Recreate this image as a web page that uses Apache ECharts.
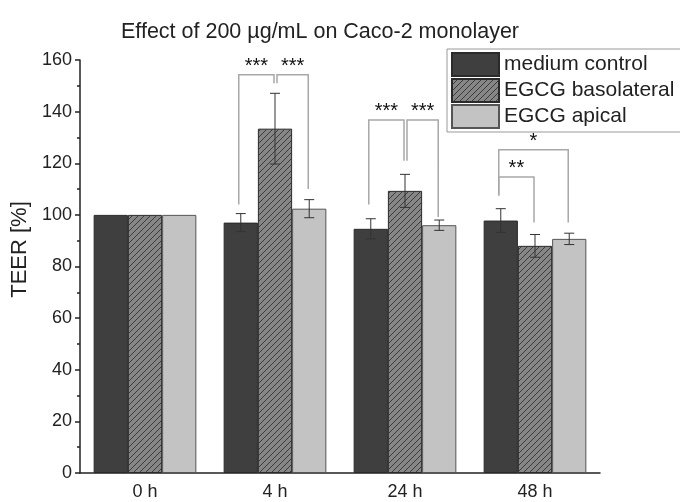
<!DOCTYPE html>
<html><head><meta charset="utf-8">
<script src="https://cdn.jsdelivr.net/npm/echarts@6/dist/echarts.min.js"></script>
<style>html,body{margin:0;padding:0;background:#fff}#c{width:680px;height:502px}</style>
</head><body><div id="c"></div>
<script>
// ---- data ----
const categories = ['0 h', '4 h', '24 h', '48 h'];
const seriesNames = ['medium control', 'EGCG basolateral', 'EGCG apical'];
const medium = [100, 97.0, 94.6, 97.8];
const mediumErr = [0, 3.5, 3.9, 4.6];
const baso = [100, 133.4, 109.3, 88.0];
const basoErr = [0, 13.7, 6.4, 4.4];
const apical = [100, 102.4, 96.0, 90.7];
const apicalErr = [0, 3.5, 2.0, 2.2];
const yTicks = [0, 20, 40, 60, 80, 100, 120, 140, 160];
// significance brackets (category, from bar, to bar, top, leg ends in TEER units)
const sigCat = [1, 1, 2, 2, 3, 3];
const sigFrom = [0, 1, 0, 1, 0, 0];
const sigTo = [1, 2, 1, 2, 1, 2];
const sigTop = [154.3, 154.3, 136.8, 136.8, 114.7, 125.2];
const sigLegFrom = [104.0, 151.0, 104.0, 121.0, 107.5, 107.5];
const sigLegTo = [151.0, 110.0, 121.0, 99.2, 97.0, 97.0];
const sigText = ['***', '***', '***', '***', '**', '*'];

// ---- styling ----
const FONT = 'Liberation Sans, Arial, sans-serif';
const GAP = 0.21;
function hatch() {
  const n = 6, c = document.createElement('canvas');
  c.width = c.height = n;
  const g = c.getContext('2d');
  g.fillStyle = '#868686'; g.fillRect(0, 0, n, n);
  g.strokeStyle = '#3c3c3c'; g.lineWidth = 1;
  g.beginPath();
  g.moveTo(-1, n + 1); g.lineTo(n + 1, -1);
  g.moveTo(-1, 1); g.lineTo(1, -1);
  g.moveTo(n - 1, n + 1); g.lineTo(n + 1, n - 1);
  g.stroke();
  return c;
}
const colors = ['#3f3f3f', { image: hatch(), repeat: 'repeat' }, '#c3c3c3'];
const borders = ['#2a2a2a', '#2a2a2a', '#555555'];
const means = [medium, baso, apical];
const errs = [mediumErr, basoErr, apicalErr];

function errData(s) {
  return categories.map((c, i) => [i, means[s][i] - errs[s][i], means[s][i] + errs[s][i]]);
}
function errRender(s) {
  return function (params, api) {
    const ci = api.value(0), lo = api.value(1), hi = api.value(2);
    if (hi - lo <= 0) return null;
    const bw = api.size([1, 0])[0] * (1 - GAP) / 3;
    const pl = api.coord([ci, lo]), ph = api.coord([ci, hi]);
    const x = pl[0] + (s - 1) * bw, cap = 5;
    const st = { stroke: '#333', lineWidth: 1 };
    return { type: 'group', children: [
      { type: 'line', shape: { x1: x, y1: pl[1], x2: x, y2: ph[1] }, style: st },
      { type: 'line', shape: { x1: x - cap, y1: pl[1], x2: x + cap, y2: pl[1] }, style: st },
      { type: 'line', shape: { x1: x - cap, y1: ph[1], x2: x + cap, y2: ph[1] }, style: st }
    ]};
  };
}
function sigRender(params, api) {
  const i = params.dataIndex;
  const ci = api.value(0), a = api.value(1), b = api.value(2);
  const bw = api.size([1, 0])[0] * (1 - GAP) / 3;
  const cx = api.coord([ci, 0])[0];
  const xa = cx + (a - 1) * bw + (a === 0 ? -2 : 2);
  const xb = cx + (b - 1) * bw - 1;
  const yt = api.coord([ci, api.value(3)])[1];
  const ya = api.coord([ci, api.value(4)])[1];
  const yb = api.coord([ci, api.value(5)])[1];
  return { type: 'group', children: [
    { type: 'polyline', shape: { points: [[xa, ya], [xa, yt], [xb, yt], [xb, yb]] },
      style: { stroke: '#a8a8a8', lineWidth: 1.5, fill: null } },
    { type: 'text', style: { text: sigText[i], x: (xa + xb) / 2, y: yt + 2,
      align: 'center', verticalAlign: 'bottom', fontSize: 20, fontFamily: FONT, fill: '#111' } }
  ]};
}
const sigData = sigCat.map((c, i) => [c, sigFrom[i], sigTo[i], sigTop[i], sigLegFrom[i], sigLegTo[i]]);

const chart = echarts.init(document.getElementById('c'), null, { renderer: 'canvas' });
const series = [];
seriesNames.forEach((name, s) => {
  series.push({
    name, type: 'bar', data: means[s], barGap: '0%', barCategoryGap: (GAP * 100) + '%',
    itemStyle: { color: colors[s], borderColor: borders[s], borderWidth: 1 },
    emphasis: { disabled: true }, animation: false
  });
});
seriesNames.forEach((name, s) => {
  series.push({ type: 'custom', data: errData(s), renderItem: errRender(s), z: 5, silent: true, animation: false });
});
series.push({ type: 'custom', data: sigData, renderItem: sigRender, z: 6, silent: true, animation: false });

chart.setOption({
  animation: false,
  backgroundColor: '#fff',
  title: {
    text: 'Effect of 200 µg/mL on Caco-2 monolayer',
    left: 315, textAlign: 'center', top: 16,
    textStyle: { fontFamily: FONT, fontSize: 21.5, fontWeight: 'normal', color: '#222' }
  },
  legend: {
    data: seriesNames, orient: 'vertical', left: 447, top: 49,
    itemWidth: 47, itemHeight: 23, itemGap: 1,
    padding: [3, 20, 3, 4],
    borderColor: '#999', borderWidth: 1, backgroundColor: '#fff',
    icon: 'rect', selectedMode: false,
    textStyle: { fontFamily: FONT, fontSize: 21, lineHeight: 23, color: '#222' }
  },
  grid: { left: 80, right: 80, top: 60, bottom: 29 },
  xAxis: [{
    type: 'category', data: categories,
    axisLine: { lineStyle: { color: '#222', width: 1.5 } },
    axisTick: { alignWithLabel: true, length: 5, lineStyle: { color: '#222', width: 1.5 } },
    axisLabel: { fontFamily: FONT, fontSize: 18, color: '#222', margin: 10 }
  }, {
    type: 'category', data: categories, position: 'bottom', gridIndex: 0,
    axisLine: { show: false },
    axisTick: { length: 3, lineStyle: { color: '#222', width: 1.5 } },
    axisLabel: { show: false }, splitLine: { show: false }
  }],
  yAxis: {
    type: 'value', min: yTicks[0], max: yTicks[yTicks.length - 1], interval: yTicks[1] - yTicks[0],
    name: 'TEER [%]', nameLocation: 'middle', nameGap: 45,
    nameTextStyle: { fontFamily: FONT, fontSize: 22, color: '#222', padding: [0, 0, 0, 34] },
    axisLine: { show: true, lineStyle: { color: '#222', width: 1.5 } },
    axisTick: { show: true, length: 5, lineStyle: { color: '#222', width: 1.5 } },
    minorTick: { show: true, splitNumber: 2, length: 3, lineStyle: { color: '#222', width: 1.5 } },
    axisLabel: { fontFamily: FONT, fontSize: 18, color: '#222', margin: 8 },
    splitLine: { show: false }
  },
  series
});
</script></body></html>
